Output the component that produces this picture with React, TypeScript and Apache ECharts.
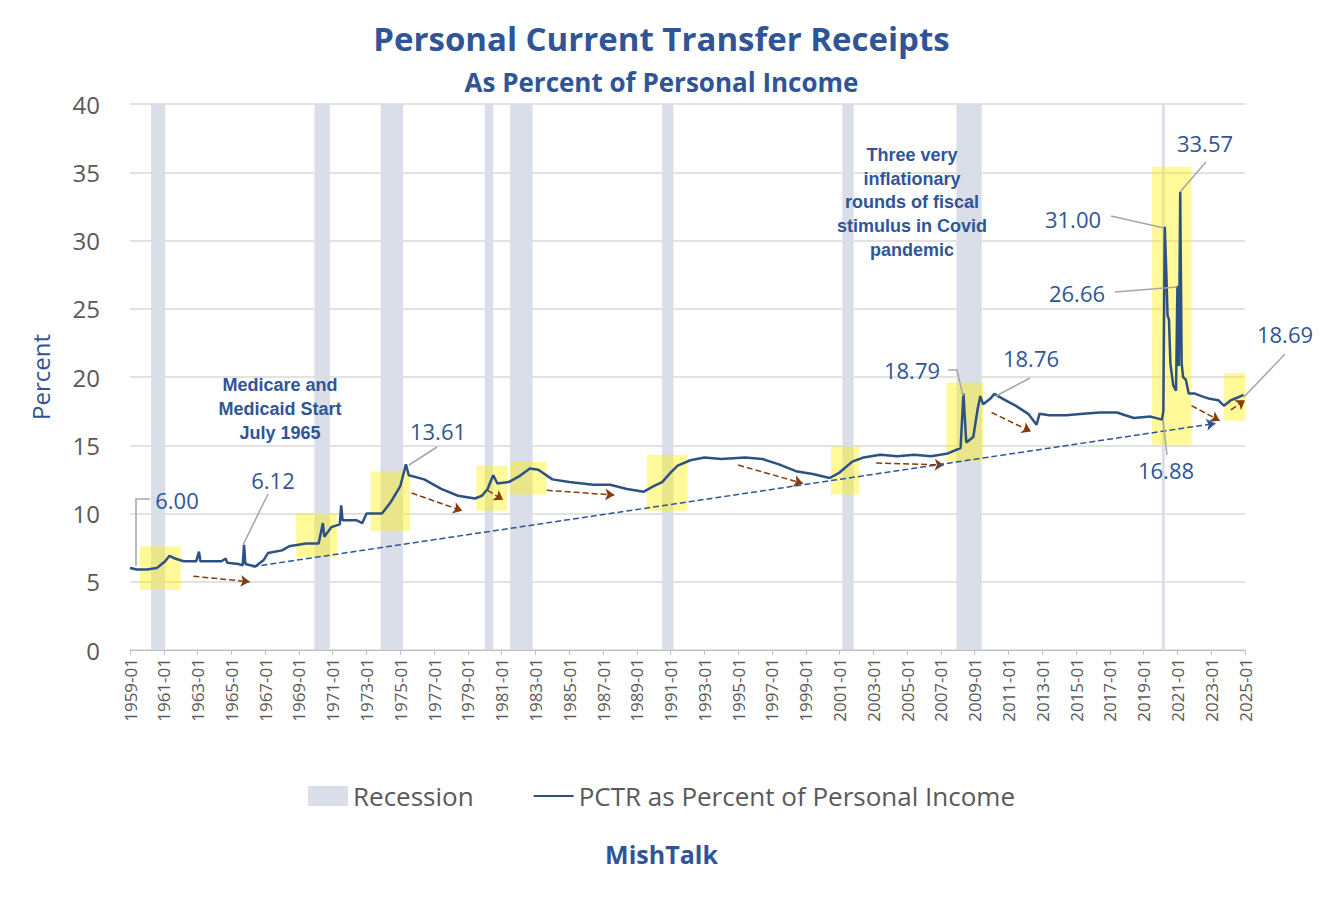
import React, { useRef, useEffect } from 'react';
import * as echarts from 'echarts';

// PCTR as percent of personal income
const dates = [
  '1959-01', '1959-06', '1960-01', '1960-08', '1961-02', '1961-05', '1961-09', '1962-03', '1962-12', '1963-02',
  '1963-03', '1964-06', '1964-09', '1964-10', '1965-06', '1965-09', '1965-10', '1965-11', '1966-06', '1966-12',
  '1967-03', '1968-01', '1968-06', '1969-06', '1970-03', '1970-06', '1970-07', '1970-12', '1971-06', '1971-07',
  '1971-08', '1972-06', '1972-10', '1973-01', '1973-12', '1974-06', '1975-01', '1975-05', '1975-07', '1976-06',
  '1977-06', '1978-06', '1979-06', '1979-11', '1980-03', '1980-07', '1980-10', '1981-06', '1982-01', '1982-09',
  '1983-03', '1984-01', '1985-01', '1986-06', '1987-06', '1988-06', '1989-06', '1990-01', '1990-07', '1991-01',
  '1991-06', '1992-03', '1993-01', '1994-01', '1995-06', '1996-06', '1997-06', '1998-06', '1999-06', '2000-06',
  '2001-01', '2001-10', '2002-06', '2003-06', '2004-06', '2005-06', '2006-06', '2007-06', '2008-03', '2008-05',
  '2008-07', '2008-12', '2009-03', '2009-05', '2009-07', '2009-12', '2010-03', '2010-09', '2011-06', '2012-03',
  '2012-09', '2012-11', '2013-06', '2014-06', '2015-06', '2016-06', '2017-06', '2018-06', '2019-06', '2020-02',
  '2020-03', '2020-04', '2020-05', '2020-06', '2020-07', '2020-08', '2020-10', '2020-12', '2021-01', '2021-02',
  '2021-03', '2021-04', '2021-05', '2021-07', '2021-09', '2022-01', '2022-06', '2022-12', '2023-06', '2023-10',
  '2024-03', '2024-08', '2024-12',
];
const values = [
  6.0, 5.9, 5.9, 6.0, 6.5, 6.9, 6.7, 6.5, 6.5, 7.2,
  6.5, 6.5, 6.7, 6.4, 6.3, 6.2, 7.7, 6.3, 6.12, 6.6,
  7.1, 7.3, 7.6, 7.8, 7.8, 9.3, 8.3, 9.0, 9.2, 10.6,
  9.5, 9.5, 9.3, 10.0, 10.0, 10.8, 12.0, 13.61, 12.8, 12.5,
  11.8, 11.3, 11.1, 11.3, 11.8, 12.8, 12.2, 12.3, 12.7, 13.3,
  13.2, 12.5, 12.3, 12.1, 12.1, 11.8, 11.6, 12.0, 12.3, 13.0,
  13.5, 13.9, 14.1, 14.0, 14.1, 14.0, 13.6, 13.1, 12.9, 12.6,
  13.0, 13.8, 14.1, 14.3, 14.2, 14.3, 14.2, 14.4, 14.8, 18.79,
  15.2, 15.6, 17.6, 18.6, 18.0, 18.4, 18.76, 18.4, 17.9, 17.3,
  16.5, 17.3, 17.2, 17.2, 17.3, 17.4, 17.4, 17.0, 17.1, 16.88,
  17.5, 31.0, 28.0, 24.5, 24.2, 21.0, 19.4, 19.0, 26.66, 20.8,
  33.57, 21.0, 20.0, 19.8, 18.8, 18.8, 18.6, 18.4, 18.3, 17.9,
  18.3, 18.5, 18.69,
];

const recessions: [string, string][] = [
  ['1960-04', '1961-02'], ['1969-12', '1970-11'], ['1973-11', '1975-03'], ['1980-01', '1980-07'],
  ['1981-07', '1982-11'], ['1990-07', '1991-03'], ['2001-03', '2001-11'], ['2007-12', '2009-06'],
  ['2020-02', '2020-04'],
];

// highlight boxes: [from, to, low, high]
const highlights: [string, string, number, number][] = [
  ['1959-08', '1962-01', 4.4, 7.6], ['1968-11', '1971-04', 6.8, 10.0], ['1973-04', '1975-08', 8.7, 13.1],
  ['1979-07', '1981-05', 10.2, 13.5], ['1981-07', '1983-09', 11.4, 13.8], ['1989-08', '1992-01', 10.2, 14.3],
  ['2000-07', '2002-03', 11.4, 14.9], ['2007-05', '2009-07', 13.8, 19.6], ['2019-07', '2021-11', 15.0, 35.4],
  ['2023-10', '2025-01', 16.8, 20.3],
];

// dashed brown arrows: [from, fromValue, to, toValue]
const arrows: [string, number, string, number][] = [
  ['1962-10', 5.4, '1966-02', 5.0], ['1975-09', 11.5, '1978-09', 10.2], ['1980-03', 11.7, '1981-02', 11.0],
  ['1983-09', 11.7, '1987-09', 11.35], ['1995-01', 13.55, '1998-11', 12.2], ['2003-03', 13.7, '2007-03', 13.55],
  ['2010-01', 17.4, '2012-05', 16.0], ['2021-11', 17.9, '2023-07', 16.8], ['2024-03', 17.6, '2025-01', 18.3],
];

const trend: [string, number, string, number] = ['1966-04', 6.1, '2023-04', 16.6];

const m = (s: string) => {
  const [y, mo] = s.split('-').map(Number);
  return (y - 1959) * 12 + (mo - 1);
};

const blue = '#2F5597';
const gray = '#A6A6A6';

const App: React.FC = () => {
  const ref = useRef<HTMLDivElement>(null);

  useEffect(() => {
    document.body.style.margin = '0';
    if (!ref.current) return;
    const chart = echarts.init(ref.current, null, { renderer: 'svg' });

    const txt = (text: string, x: number, y: number, opts: any = {}) => ({
      type: 'text', x, y, z: 100,
      style: { text, fill: blue, font: '22px "Open Sans", sans-serif', align: 'center', verticalAlign: 'middle', ...opts },
    });
    const lead = (points: number[][]) => ({
      type: 'polyline', z: 100, shape: { points }, style: { stroke: gray, lineWidth: 1.5, fill: null },
    });
    const boldFont = 'bold 18px "Liberation Sans", Arial, sans-serif';

    chart.setOption({
      animation: false,
      title: [
        { text: 'Personal Current Transfer Receipts', left: 'center', top: 17,
          textStyle: { color: blue, fontSize: 33, fontWeight: 'bold', fontFamily: '"Open Sans", sans-serif' } },
        { text: 'As Percent of Personal Income', left: 'center', top: 64,
          textStyle: { color: blue, fontSize: 26, fontWeight: 'bold', fontFamily: '"Open Sans", sans-serif' } },
        { text: 'MishTalk', left: 'center', top: 836,
          textStyle: { color: blue, fontSize: 25, fontWeight: 'bold', fontFamily: '"Open Sans", sans-serif' } },
      ],
      grid: { left: 130, right: 78, top: 104, bottom: 252 },
      legend: {
        bottom: 88, left: 'center', itemGap: 60, itemWidth: 40, itemHeight: 20,
        textStyle: { color: '#595959', fontSize: 26, fontFamily: '"Open Sans", sans-serif' },
        data: [
          { name: 'Recession', icon: 'rect', itemStyle: { color: '#D9DEE8' } },
          { name: 'PCTR as Percent of Personal Income', icon: 'path://M0,9L40,9L40,11L0,11Z' },
        ],
      },
      xAxis: {
        type: 'value', min: 0, max: m('2025-01'), interval: 24,
        axisLine: { lineStyle: { color: '#BFBFBF' } },
        axisTick: { show: true, lineStyle: { color: '#BFBFBF' } },
        splitLine: { show: false },
        axisLabel: {
          rotate: 90, color: '#595959', fontSize: 17, fontFamily: '"Open Sans", sans-serif',
          formatter: (v: number) => `${1959 + Math.round(v / 12)}-01`,
        },
      },
      yAxis: {
        type: 'value', min: 0, max: 40, interval: 5,
        name: 'Percent', nameLocation: 'middle', nameGap: 78, nameRotate: 90,
        nameTextStyle: { color: blue, fontSize: 24, fontFamily: '"Open Sans", sans-serif' },
        axisLabel: { color: '#595959', fontSize: 24, margin: 30, fontFamily: '"Open Sans", sans-serif' },
        splitLine: { lineStyle: { color: '#D9D9D9', width: 1.5 } },
        axisLine: { show: false }, axisTick: { show: false },
      },
      series: [
        {
          name: 'Recession', type: 'line', data: [], itemStyle: { color: '#D9DEE8' },
          markArea: {
            silent: true, itemStyle: { color: '#D9DEE8' },
            data: recessions.map(([a, b]) => [{ xAxis: m(a) }, { xAxis: m(b) }]),
          },
        },
        {
          name: 'highlights', type: 'line', data: [], z: 3,
          markArea: {
            silent: true, itemStyle: { color: 'rgba(255,240,0,0.4)' },
            data: highlights.map(([a, b, lo, hi]) => [{ coord: [m(a), lo] }, { coord: [m(b), hi] }]),
          },
          markLine: {
            silent: true, symbol: ['none', 'arrow'], symbolSize: 9, label: { show: false },
            lineStyle: { color: '#843C0C', type: 'dashed', width: 1.5 },
            data: [
              ...arrows.map(([a, va, b, vb]) => [{ coord: [m(a), va] }, { coord: [m(b), vb] }]),
              [{ coord: [m(trend[0]), trend[1]], lineStyle: { color: blue } }, { coord: [m(trend[2]), trend[3]] }],
            ],
          },
        },
        {
          name: 'PCTR as Percent of Personal Income', type: 'line', z: 5,
          data: dates.map((d, i) => [m(d), values[i]]),
          showSymbol: false, lineStyle: { color: '#2E5184', width: 2.5 }, itemStyle: { color: '#2E5184' },
        },
      ],
      graphic: [
        txt('6.00', 177, 500), lead([[150, 499], [136, 499], [136, 566]]),
        txt('6.12', 273, 480), lead([[268, 494], [243, 545]]),
        txt('13.61', 438, 431), lead([[437, 447], [409, 465]]),
        txt('18.79', 912, 370), lead([[948, 370], [957, 370], [963, 396]]),
        txt('18.76', 1031, 358), lead([[1030, 378], [996, 396]]),
        txt('31.00', 1073, 219), lead([[1111, 216], [1164, 228]]),
        txt('26.66', 1077, 293), lead([[1115, 292], [1177, 287]]),
        txt('33.57', 1205, 143), lead([[1206, 162], [1180, 192]]),
        txt('16.88', 1166, 470), lead([[1167, 455], [1163, 420]]),
        txt('18.69', 1285, 334), lead([[1285, 354], [1244, 397]]),
        txt('Medicare and', 280, 385, { font: boldFont }),
        txt('Medicaid Start', 280, 409, { font: boldFont }),
        txt('July 1965', 280, 433, { font: boldFont }),
        txt('Three very', 912, 155, { font: boldFont }),
        txt('inflationary', 912, 179, { font: boldFont }),
        txt('rounds of fiscal', 912, 202, { font: boldFont }),
        txt('stimulus in Covid', 912, 226, { font: boldFont }),
        txt('pandemic', 912, 250, { font: boldFont }),
      ],
    });

    return () => chart.dispose();
  }, []);

  return <div ref={ref} style={{ width: '1323px', height: '902px' }} />;
};

export default App;
